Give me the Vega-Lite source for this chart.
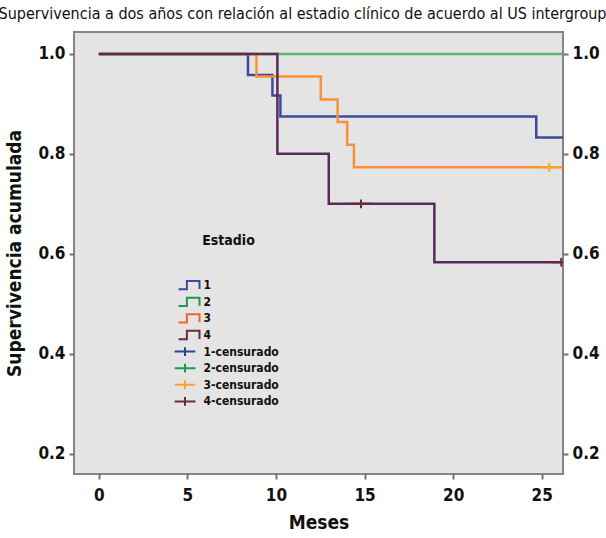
{
  "$schema": "https://vega.github.io/schema/vega-lite/v6.json",
  "width": 489,
  "height": 442,
  "autosize": "none",
  "padding": {"left": 74, "top": 32, "right": 43, "bottom": 64},
  "background": "white",
  "title": {
    "text": "Supervivencia a dos años con relación al estadio clínico de acuerdo al US intergroup",
    "anchor": "middle",
    "dx": -16,
    "offset": 10,
    "fontSize": 16,
    "fontWeight": "normal",
    "font": "Liberation Sans Narrow, DejaVu Sans Condensed, sans-serif",
    "color": "#111111"
  },
  "config": {
    "view": {"fill": "#e4e4e4", "stroke": "#858585", "strokeWidth": 2},
    "font": "Liberation Sans Narrow, DejaVu Sans Condensed, sans-serif",
    "axis": {
      "grid": false,
      "domain": false,
      "tickColor": "#707070",
      "tickSize": 5,
      "tickWidth": 2,
      "labelFontSize": 17,
      "labelFontWeight": "bold",
      "labelColor": "#111111",
      "titleFontSize": 19,
      "titleFontWeight": "bold",
      "titleColor": "#111111"
    }
  },
  "layer": [
    {
      "data": {
        "values": [
          {"t": 0, "s": 1, "serie": "1"},
          {"t": 8.42, "s": 0.958, "serie": "1"},
          {"t": 9.8, "s": 0.917, "serie": "1"},
          {"t": 10.25, "s": 0.875, "serie": "1"},
          {"t": 24.69, "s": 0.833, "serie": "1"},
          {"t": 26.2, "s": 0.833, "serie": "1"},
          {"t": 0, "s": 1, "serie": "2"},
          {"t": 26.2, "s": 1, "serie": "2"},
          {"t": 0, "s": 1, "serie": "3"},
          {"t": 8.9, "s": 0.955, "serie": "3"},
          {"t": 12.53, "s": 0.909, "serie": "3"},
          {"t": 13.48, "s": 0.864, "serie": "3"},
          {"t": 14.02, "s": 0.818, "serie": "3"},
          {"t": 14.4, "s": 0.773, "serie": "3"},
          {"t": 26.2, "s": 0.773, "serie": "3"},
          {"t": 0, "s": 1, "serie": "4"},
          {"t": 10.08, "s": 0.8, "serie": "4"},
          {"t": 12.98, "s": 0.7, "serie": "4"},
          {"t": 18.94, "s": 0.583, "serie": "4"},
          {"t": 26.1, "s": 0.583, "serie": "4"}
        ]
      },
      "mark": {"type": "line", "interpolate": "step-after", "strokeWidth": 2.5, "clip": true},
      "encoding": {
        "x": {
          "field": "t",
          "type": "quantitative",
          "scale": {"domain": [-1.4, 26.2], "nice": false, "zero": false},
          "axis": {"values": [0, 5, 10, 15, 20, 25], "title": "Meses", "labelPadding": 8, "titlePadding": 10}
        },
        "y": {
          "field": "s",
          "type": "quantitative",
          "scale": {"domain": [0.159, 1.044], "nice": false, "zero": false},
          "axis": {"orient": "left", "values": [0.2, 0.4, 0.6, 0.8, 1.0], "format": ".1f", "title": "Supervivencia acumulada", "labelPadding": 4, "titlePadding": 13}
        },
        "stroke": {
          "field": "serie",
          "type": "nominal",
          "scale": {"domain": ["1", "2", "3", "4"], "range": ["#3d4b9a", "#5db572", "#f7913a", "#5b2b5c"]},
          "legend": null
        }
      }
    },
    {
      "data": {
        "values": [
          {"t": 25.42, "s": 0.773, "serie": "3-censurado"},
          {"t": 14.8, "s": 0.7, "serie": "4-censurado"},
          {"t": 26.1, "s": 0.583, "serie": "4-censurado"}
        ]
      },
      "mark": {"type": "point", "filled": false, "strokeWidth": 2, "size": 169, "opacity": 1, "clip": true},
      "encoding": {
        "x": {"field": "t", "type": "quantitative"},
        "y": {
          "field": "s",
          "type": "quantitative",
          "axis": {"orient": "right", "values": [0.2, 0.4, 0.6, 0.8, 1.0], "format": ".1f", "title": null, "labelPadding": 4}
        },
        "color": {
          "field": "serie",
          "type": "nominal",
          "scale": {
            "domain": ["1", "2", "3", "4", "1-censurado", "2-censurado", "3-censurado", "4-censurado"],
            "range": ["#3b4a9c", "#1e9a4e", "#f4622e", "#6a2842", "#33408e", "#1a9a50", "#f8a332", "#6a2842"]
          },
          "legend": {
            "title": "Estadio",
            "orient": "none",
            "legendX": 103.5,
            "legendY": 201.7,
            "padding": 0,
            "titleAnchor": "middle",
            "titlePadding": 30,
            "titleFontSize": 14,
            "titleFontWeight": "bold",
            "titleColor": "#111111",
            "symbolSize": 169,
            "symbolStrokeWidth": 2,
            "labelOffset": 11,
            "rowPadding": -0.4,
            "labelFontSize": 12,
            "labelFontWeight": "bold",
            "labelColor": "#111111"
          }
        },
        "shape": {
          "field": "serie",
          "type": "nominal",
          "scale": {
            "domain": ["1", "2", "3", "4", "1-censurado", "2-censurado", "3-censurado", "4-censurado"],
            "range": [
              "M-1,0.64H0.29V-0.64H2.23V0.6",
              "M-1,0.64H0.29V-0.64H2.23V0.6",
              "M-1,0.64H0.29V-0.64H2.23V0.6",
              "M-1,0.64H0.29V-0.64H2.23V0.6",
              "M-1.6,0H1.6M0,-0.67V0.67",
              "M-1.6,0H1.6M0,-0.67V0.67",
              "M-1.6,0H1.6M0,-0.67V0.67",
              "M-1.6,0H1.6M0,-0.67V0.67"
            ]
          },
          "legend": {
            "title": "Estadio",
            "orient": "none",
            "legendX": 103.5,
            "legendY": 201.7,
            "padding": 0,
            "titleAnchor": "middle",
            "titlePadding": 30,
            "titleFontSize": 14,
            "titleFontWeight": "bold",
            "titleColor": "#111111",
            "symbolSize": 169,
            "symbolStrokeWidth": 2,
            "labelOffset": 11,
            "rowPadding": -0.4,
            "labelFontSize": 12,
            "labelFontWeight": "bold",
            "labelColor": "#111111"
          }
        }
      }
    }
  ],
  "resolve": {"axis": {"y": "independent"}}
}
